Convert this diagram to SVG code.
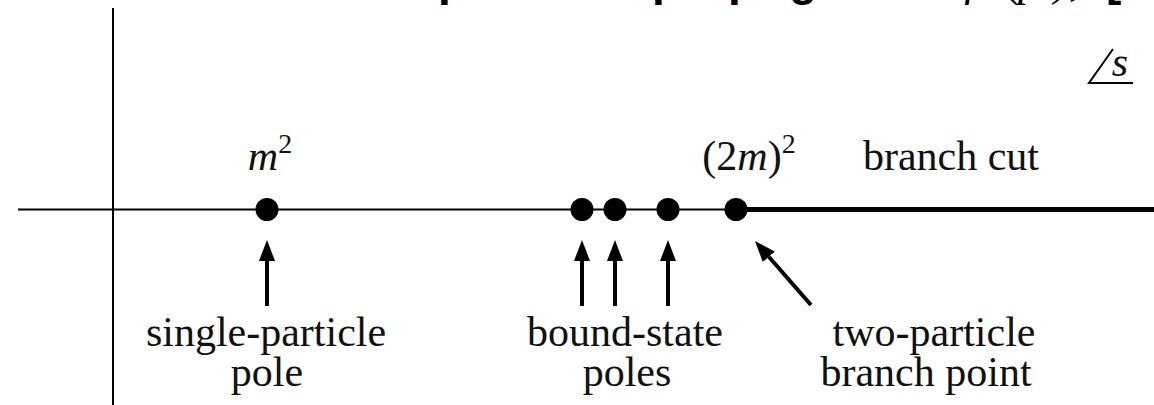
<svg xmlns="http://www.w3.org/2000/svg" width="1154" height="405" viewBox="0 0 1154 405">
<defs>
<style>
.lbl{font-family:"Liberation Serif","Times New Roman",serif;font-size:42px;fill:#111;text-anchor:middle}
.math{font-family:"Liberation Serif","Times New Roman",serif;font-style:italic}
.title{font-family:"Liberation Sans",Arial,sans-serif;font-size:46px;font-weight:bold;fill:#000}
.tmath{font-family:"Liberation Serif","Times New Roman",serif;font-size:46px;font-style:italic;fill:#000}
.dot{fill:#000}
.arrow{stroke:#000;stroke-width:4;fill:none;marker-end:url(#ah)}
.axis{stroke:#000;fill:none}
</style>
<marker id="ah" markerUnits="userSpaceOnUse" markerWidth="24" markerHeight="20" viewBox="0 -10 24 20" refX="0" refY="0" orient="auto">
<path d="M0,-8 L21,0 L0,8 z" fill="#000"/>
</marker>
</defs>
<rect width="1154" height="405" fill="#fff"/>

<g id="title-fragment" transform="translate(0,-5)">
<text class="title" x="438" y="0">p</text>
<text class="title" x="652" y="0">p</text>
<text class="title" x="728" y="0">p</text>
<text class="title" x="789" y="0">g</text>
<text class="title" x="1106" y="0">[</text>
<text class="tmath" x="966" y="0">ρ</text>
<text class="tmath" x="1006" y="0" font-style="normal">(</text>
<text class="tmath" x="1018" y="0">p</text>
<text class="tmath" x="1054" y="0" font-style="normal">),</text>
</g>

<g id="axes">
<line class="axis" x1="113" y1="8" x2="113" y2="405" stroke="#444" stroke-width="2"/>
<line class="axis" x1="18" y1="209.5" x2="736" y2="209.5" stroke-width="1.8"/>
</g>

<g id="plane-label">
<path d="M1113,49 L1089,83 L1133,83" fill="none" stroke="#000" stroke-width="2"/>
<text class="lbl math" x="1120" y="76" font-size="38">s</text>
</g>

<g id="branch-cut">
<line x1="736" y1="209.5" x2="1154" y2="209.5" stroke="#000" stroke-width="5"/>
<text class="lbl" x="951" y="170">branch cut</text>
</g>

<g id="single-particle-pole">
<circle class="dot" cx="267" cy="209.5" r="11.5"/>
<text class="lbl" x="270" y="170"><tspan class="math">m</tspan><tspan dy="-17" font-size="28">2</tspan></text>
<text class="lbl" x="266" y="346">single-particle</text>
<text class="lbl" x="267" y="386">pole</text>
</g>

<g id="bound-state-poles">
<circle class="dot" cx="582" cy="209.5" r="11.5"/>
<circle class="dot" cx="615" cy="209.5" r="11.5"/>
<circle class="dot" cx="668" cy="209.5" r="11.5"/>
<text class="lbl" x="625" y="346">bound-state</text>
<text class="lbl" x="627" y="386">poles</text>
</g>

<g id="two-particle-branch-point">
<circle class="dot" cx="736" cy="209.5" r="11.5"/>
<text class="lbl" x="749" y="170">(2<tspan class="math">m</tspan>)<tspan dy="-17" font-size="28">2</tspan></text>
<text class="lbl" x="934" y="346">two-particle</text>
<text class="lbl" x="926" y="386">branch point</text>
</g>

<g id="connectors">
<line class="arrow" x1="267" y1="306" x2="267" y2="261"/>
<line class="arrow" x1="582" y1="306" x2="582" y2="261"/>
<line class="arrow" x1="615" y1="306" x2="615" y2="261"/>
<line class="arrow" x1="668" y1="306" x2="668" y2="261"/>
<line class="arrow" x1="811" y1="305" x2="768.8" y2="256.8"/>
</g>
</svg>
